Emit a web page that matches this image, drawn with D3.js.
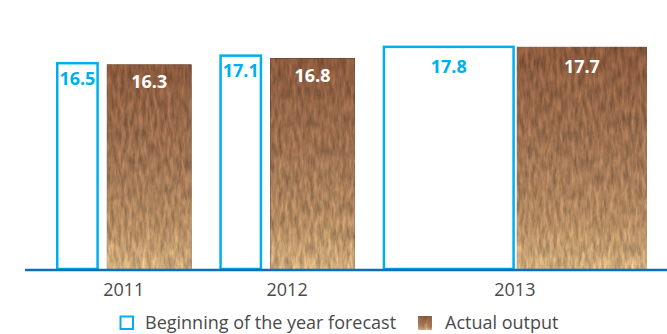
<!DOCTYPE html>
<html>
<head>
<meta charset="utf-8">
<script src="https://cdn.jsdelivr.net/npm/d3@7/dist/d3.min.js"></script>
<style>
  html, body { margin: 0; padding: 0; background: #fff; }
  svg { display: block; }
</style>
</head>
<body>
<svg id="chart" width="667" height="334"></svg>
<script>
// Production: forecast at the start of the year vs. actual output
const years = ["2011", "2012", "2013"];
const forecast = [16.5, 17.1, 17.8];
const actual = [16.3, 16.8, 17.7];
const seriesNames = ["Beginning of the year forecast", "Actual output"];

const W = 667, H = 334;
const svg = d3.select("#chart");

const BLUE = "#00aeef";
const AXIS_BLUE = "#0b6fb8";
const TEXT_GREY = "#4a4a4a";
const FONT = "'Open Sans', 'DejaVu Sans', sans-serif";

// Group layout: relative widths of each year group and the gap between groups
const groupWeight = [1, 1, 1.95];
const groupGap = 0.205;
const forecastShare = [0.316, 0.316, 0.5];
const innerGap = [8, 8, 2];

const starts = [];
let acc = 0;
groupWeight.forEach((w, i) => { starts.push(acc); acc += w + (i < groupWeight.length - 1 ? groupGap : 0); });
const x = d3.scaleLinear().domain([0, acc]).range([56, 647]);
const y = d3.scaleLinear().domain([0, 20]).range([269, 18]);

const groups = years.map((yr, i) => {
  const x0 = x(starts[i]);
  const x1 = x(starts[i] + groupWeight[i]);
  const gw = x1 - x0;
  const fw = gw * forecastShare[i];
  return {
    year: yr, x0, x1, cx: (x0 + x1) / 2,
    f: { x: x0, w: fw, v: forecast[i] },
    a: { x: x0 + fw + innerGap[i], w: x1 - (x0 + fw + innerGap[i]), v: actual[i] }
  };
});

// Textured brown fill for actual output bars
const defs = svg.append("defs");
const grad = defs.append("linearGradient").attr("id", "brown").attr("x1", 0).attr("y1", 0).attr("x2", 0).attr("y2", 1);
grad.append("stop").attr("offset", "0%").attr("stop-color", "#8a5a3e");
grad.append("stop").attr("offset", "45%").attr("stop-color", "#9d7252");
grad.append("stop").attr("offset", "80%").attr("stop-color", "#b48c63");
grad.append("stop").attr("offset", "100%").attr("stop-color", "#cfab7c");

const filt = defs.append("filter").attr("id", "grain")
  .attr("x", 0).attr("y", 0).attr("width", 1).attr("height", 1)
  .attr("color-interpolation-filters", "sRGB");
filt.append("feTurbulence").attr("type", "fractalNoise")
  .attr("baseFrequency", "0.28 0.07").attr("numOctaves", 3).attr("seed", 7).attr("result", "noise");
filt.append("feColorMatrix").attr("in", "noise").attr("type", "matrix")
  .attr("values", "1 0 0 0 0  1 0 0 0 0  1 0 0 0 0  0 0 0 0 1").attr("result", "gray");
filt.append("feComposite").attr("in", "SourceGraphic").attr("in2", "gray")
  .attr("operator", "arithmetic").attr("k1", 0.6).attr("k2", 0.72).attr("k3", 0).attr("k4", -0.01);

const SW = 2.5;

// Forecast bars (outlined)
svg.append("g").selectAll("rect").data(groups).join("rect")
  .attr("x", d => d.f.x + SW / 2)
  .attr("y", d => y(d.f.v) + SW / 2)
  .attr("width", d => d.f.w - SW)
  .attr("height", d => y(0) - y(d.f.v) - SW / 2)
  .attr("fill", "#fff")
  .attr("stroke", BLUE)
  .attr("stroke-width", SW);

// Actual output bars (textured)
svg.append("g").selectAll("rect").data(groups).join("rect")
  .attr("x", d => d.a.x)
  .attr("y", d => y(d.a.v))
  .attr("width", d => d.a.w)
  .attr("height", d => y(0) - y(d.a.v))
  .attr("fill", "url(#brown)")
  .attr("filter", "url(#grain)");

// Value labels
svg.append("g").selectAll("text").data(groups).join("text")
  .attr("x", d => d.f.x + d.f.w / 2)
  .attr("y", (d, i) => y(d.f.v) + (i === 2 ? 27 : 23))
  .attr("text-anchor", "middle")
  .attr("font-family", FONT).attr("font-weight", 700).attr("font-size", 18)
  .attr("fill", BLUE)
  .text(d => d3.format(".1f")(d.f.v));

svg.append("g").selectAll("text").data(groups).join("text")
  .attr("x", d => d.a.x + d.a.w / 2)
  .attr("y", (d, i) => y(d.a.v) + (i === 2 ? 26 : 24))
  .attr("text-anchor", "middle")
  .attr("font-family", FONT).attr("font-weight", 700).attr("font-size", 18)
  .attr("fill", "#fff")
  .text(d => d3.format(".1f")(d.a.v));

// Baseline
svg.append("line")
  .attr("x1", 25).attr("x2", W)
  .attr("y1", y(0) + 1).attr("y2", y(0) + 1)
  .attr("stroke", AXIS_BLUE).attr("stroke-width", 2.5);

// Year labels
svg.append("g").selectAll("text").data(groups).join("text")
  .attr("x", d => d.cx)
  .attr("y", 296)
  .attr("text-anchor", "middle")
  .attr("font-family", FONT).attr("font-size", 18)
  .attr("fill", TEXT_GREY)
  .text(d => d.year);

// Legend
const lg = svg.append("g");
lg.append("rect").attr("x", 120.5).attr("y", 316.5).attr("width", 12.5).attr("height", 12.5)
  .attr("fill", "#fff").attr("stroke", BLUE).attr("stroke-width", 2);
lg.append("text").attr("x", 145).attr("y", 329)
  .attr("font-family", FONT).attr("font-size", 18).attr("fill", TEXT_GREY)
  .text(seriesNames[0]);
lg.append("rect").attr("x", 418).attr("y", 316).attr("width", 14).attr("height", 14)
  .attr("fill", "url(#brown)").attr("filter", "url(#grain)");
lg.append("text").attr("x", 445).attr("y", 329)
  .attr("font-family", FONT).attr("font-size", 18).attr("fill", TEXT_GREY)
  .text(seriesNames[1]);
</script>
</body>
</html>
